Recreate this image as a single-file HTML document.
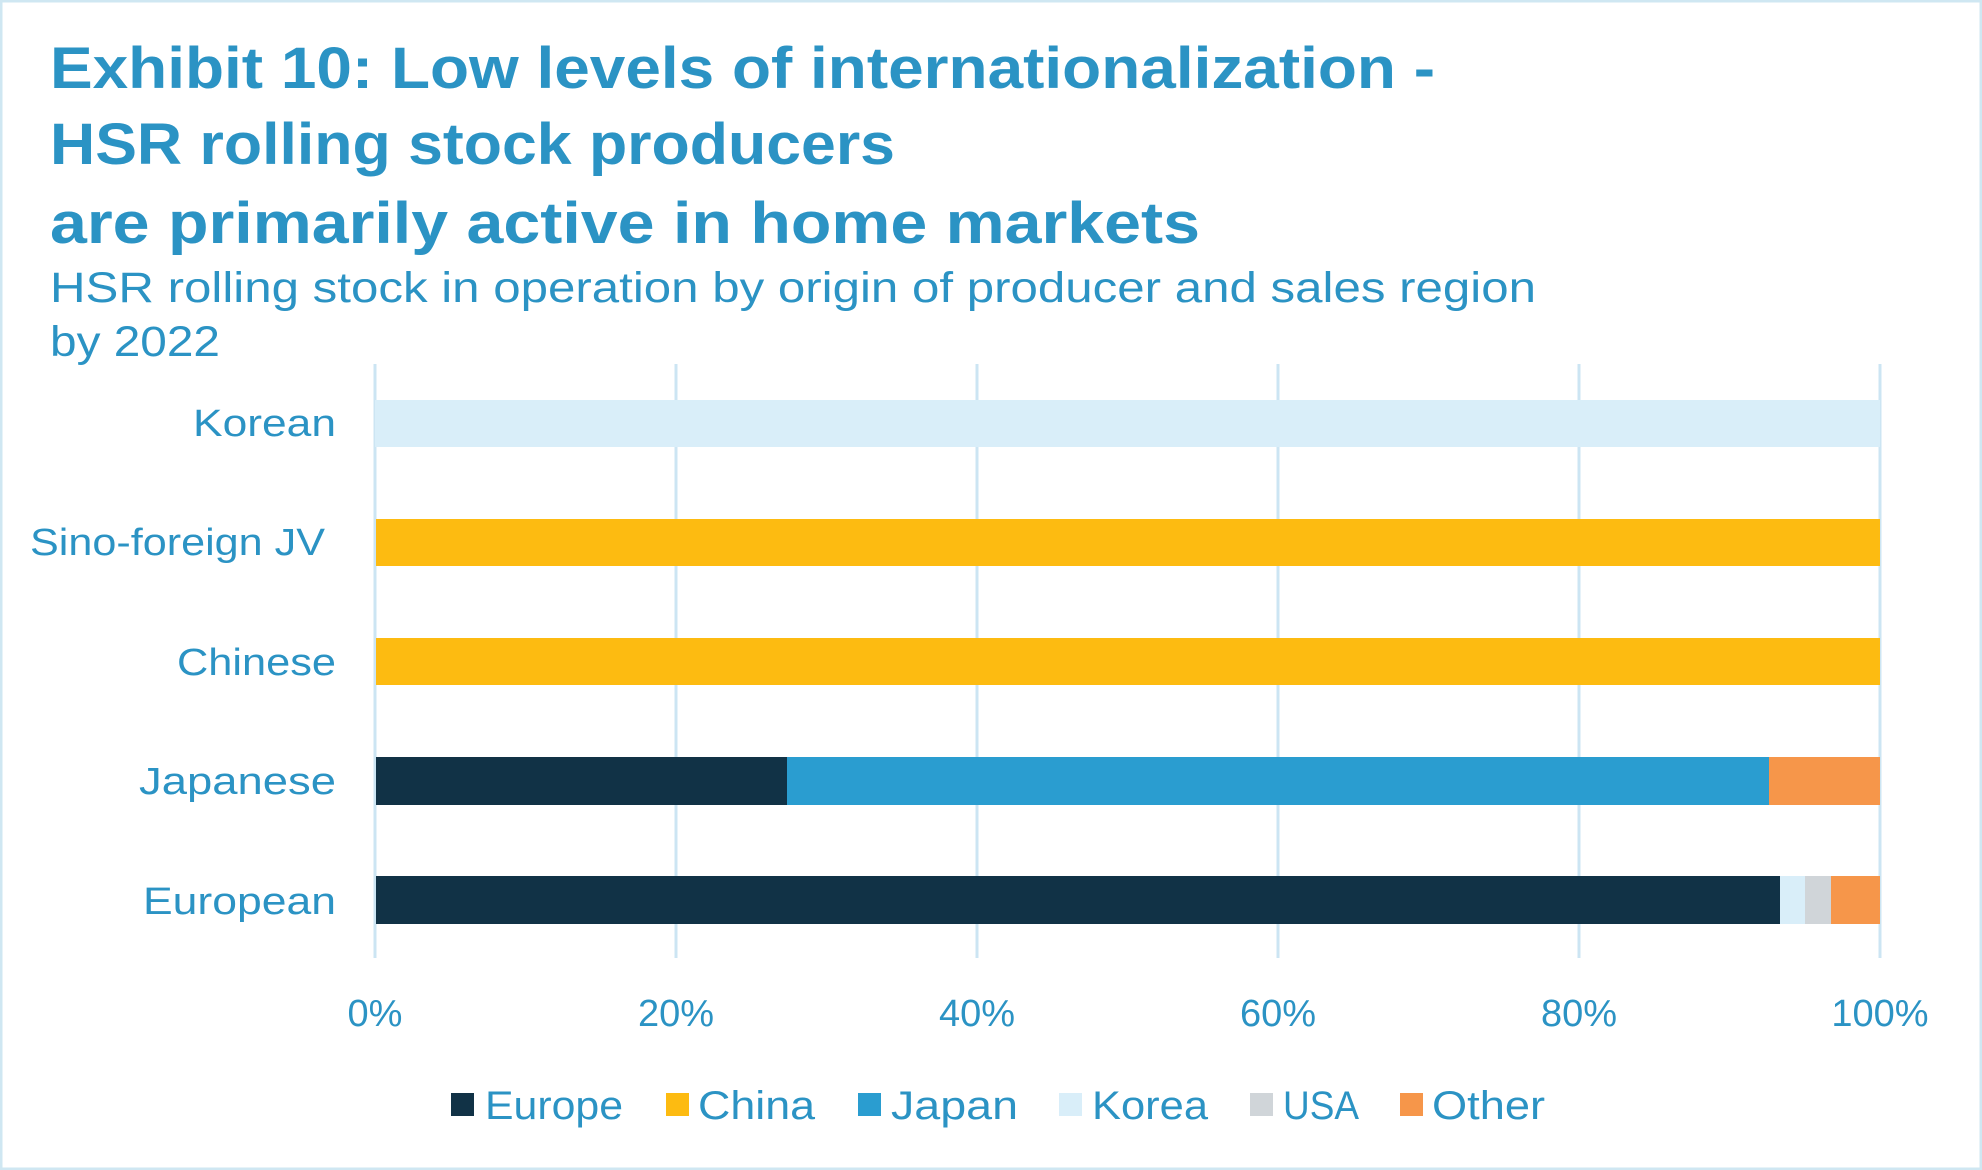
<!DOCTYPE html>
<html><head><style>html,body{margin:0;padding:0;background:#fff}svg{display:block}</style></head>
<body>
<svg width="1982" height="1170" viewBox="0 0 1982 1170" xmlns="http://www.w3.org/2000/svg" font-family="'Liberation Sans', sans-serif">
<rect x="1" y="1" width="1980" height="1168" fill="#fff" stroke="#cfe7f2" stroke-width="3"/>
<g fill="#2b93c4">
<text x="50" y="88" font-size="58" font-weight="bold" textLength="1385" lengthAdjust="spacingAndGlyphs">Exhibit 10: Low levels of internationalization -</text>
<text x="50" y="164" font-size="58" font-weight="bold" textLength="845" lengthAdjust="spacingAndGlyphs">HSR rolling stock producers</text>
<text x="50" y="243" font-size="58" font-weight="bold" textLength="1150" lengthAdjust="spacingAndGlyphs">are primarily active in home markets</text>
<text x="50" y="302" font-size="43" textLength="1486" lengthAdjust="spacingAndGlyphs">HSR rolling stock in operation by origin of producer and sales region</text>
<text x="50" y="356" font-size="43" textLength="170" lengthAdjust="spacingAndGlyphs">by 2022</text>
</g>
<g stroke="#cce5f3" stroke-width="3">
<line x1="375" y1="364" x2="375" y2="958"/><line x1="676" y1="364" x2="676" y2="958"/><line x1="977" y1="364" x2="977" y2="958"/>
<line x1="1278" y1="364" x2="1278" y2="958"/><line x1="1579" y1="364" x2="1579" y2="958"/><line x1="1880" y1="364" x2="1880" y2="958"/>
</g>
<rect x="375" y="400" width="1505" height="47" fill="#d9eef9"/>
<rect x="376" y="519" width="1504" height="47" fill="#fdbb11"/>
<rect x="376" y="638" width="1504" height="47" fill="#fdbb11"/>
<rect x="376" y="757" width="411" height="48" fill="#113246"/>
<rect x="787" y="757" width="982" height="48" fill="#2a9dd0"/>
<rect x="1769" y="757" width="111" height="48" fill="#f6964a"/>
<rect x="376" y="876" width="1404" height="48" fill="#113246"/>
<rect x="1780" y="876" width="25" height="48" fill="#d9eef9"/>
<rect x="1805" y="876" width="26" height="48" fill="#d0d5d9"/>
<rect x="1831" y="876" width="49" height="48" fill="#f6964a"/>
<g fill="#2b93c4" font-size="38">
<text x="193" y="436" textLength="143" lengthAdjust="spacingAndGlyphs">Korean</text>
<text x="30" y="555" textLength="295" lengthAdjust="spacingAndGlyphs">Sino-foreign JV</text>
<text x="177" y="675" textLength="159" lengthAdjust="spacingAndGlyphs">Chinese</text>
<text x="139" y="794" textLength="197" lengthAdjust="spacingAndGlyphs">Japanese</text>
<text x="143" y="914" textLength="193" lengthAdjust="spacingAndGlyphs">European</text>
</g>
<g fill="#2b93c4" font-size="38" text-anchor="middle">
<text x="375" y="1026">0%</text><text x="676" y="1026">20%</text><text x="977" y="1026">40%</text>
<text x="1278" y="1026">60%</text><text x="1579" y="1026">80%</text><text x="1880" y="1026">100%</text>
</g>
<rect x="451" y="1093" width="23" height="23" fill="#113246"/>
<rect x="666" y="1093" width="23" height="23" fill="#fdbb11"/>
<rect x="858" y="1093" width="23" height="23" fill="#2a9dd0"/>
<rect x="1059" y="1093" width="23" height="23" fill="#d9eef9"/>
<rect x="1250" y="1093" width="23" height="23" fill="#d0d5d9"/>
<rect x="1400" y="1093" width="23" height="23" fill="#f6964a"/>
<g fill="#2b93c4" font-size="40">
<text x="485" y="1119" textLength="138" lengthAdjust="spacingAndGlyphs">Europe</text>
<text x="698" y="1119" textLength="117" lengthAdjust="spacingAndGlyphs">China</text>
<text x="891" y="1119" textLength="127" lengthAdjust="spacingAndGlyphs">Japan</text>
<text x="1092" y="1119" textLength="116" lengthAdjust="spacingAndGlyphs">Korea</text>
<text x="1283" y="1119" textLength="76" lengthAdjust="spacingAndGlyphs">USA</text>
<text x="1432" y="1119" textLength="113" lengthAdjust="spacingAndGlyphs">Other</text>
</g>
</svg>
</body></html>
